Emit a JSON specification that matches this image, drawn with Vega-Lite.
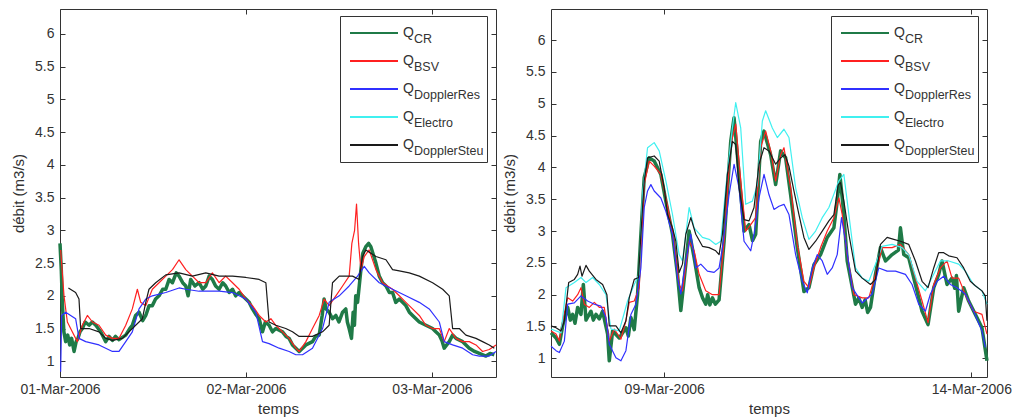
{
"$schema": "https://vega.github.io/schema/vega-lite/v6.json",
"padding": {"left": 11, "top": 8, "right": 0, "bottom": 0},
"spacing": 2,
"resolve": {"scale": {"color": "independent", "shape": "independent"}, "legend": {"color": "independent", "shape": "independent"}},
"config": {
  "view": {"stroke": "#333333", "strokeWidth": 1},
  "font": "Liberation Sans",
  "axis": {"labelFont": "Liberation Sans", "labelFontSize": 14, "labelColor": "#333333", "titleFont": "Liberation Sans", "titleFontSize": 15, "titleFontWeight": "normal", "titleColor": "#333333", "grid": false, "domain": false, "tickColor": "#333333", "tickSize": -5, "labelPadding": 11, "labelFlush": false, "labelOverlap": false, "titlePadding": 8},
  "axisX": {"titlePadding": 5},
  "legend": {"labelFont": "Liberation Sans", "labelColor": "#333333"}
},
"datasets": {
"L": [
{"s":"CR","t":"2006-03-01T00:00","v":2.8},{"s":"CR","t":"2006-03-01T00:10","v":2.4},{"s":"CR","t":"2006-03-01T00:18","v":1.9},{"s":"CR","t":"2006-03-01T00:30","v":1.45},{"s":"CR","t":"2006-03-01T00:44","v":1.3},{"s":"CR","t":"2006-03-01T01:00","v":1.4},{"s":"CR","t":"2006-03-01T01:15","v":1.25},{"s":"CR","t":"2006-03-01T01:30","v":1.35},{"s":"CR","t":"2006-03-01T01:49","v":1.15},{"s":"CR","t":"2006-03-01T02:05","v":1.3},{"s":"CR","t":"2006-03-01T02:19","v":1.35},{"s":"CR","t":"2006-03-01T02:35","v":1.45},{"s":"CR","t":"2006-03-01T02:53","v":1.5},{"s":"CR","t":"2006-03-01T03:15","v":1.6},{"s":"CR","t":"2006-03-01T03:45","v":1.55},{"s":"CR","t":"2006-03-01T04:10","v":1.6},{"s":"CR","t":"2006-03-01T04:37","v":1.55},{"s":"CR","t":"2006-03-01T05:15","v":1.45},{"s":"CR","t":"2006-03-01T05:54","v":1.3},{"s":"CR","t":"2006-03-01T06:20","v":1.38},{"s":"CR","t":"2006-03-01T06:46","v":1.32},{"s":"CR","t":"2006-03-01T07:10","v":1.38},{"s":"CR","t":"2006-03-01T07:37","v":1.33},{"s":"CR","t":"2006-03-01T08:29","v":1.4},{"s":"CR","t":"2006-03-01T09:00","v":1.5},{"s":"CR","t":"2006-03-01T09:20","v":1.55},{"s":"CR","t":"2006-03-01T09:45","v":1.7},{"s":"CR","t":"2006-03-01T10:12","v":1.75},{"s":"CR","t":"2006-03-01T10:40","v":1.62},{"s":"CR","t":"2006-03-01T11:04","v":1.7},{"s":"CR","t":"2006-03-01T11:30","v":1.85},{"s":"CR","t":"2006-03-01T11:55","v":1.85},{"s":"CR","t":"2006-03-01T12:20","v":1.95},{"s":"CR","t":"2006-03-01T12:47","v":2.0},{"s":"CR","t":"2006-03-01T13:15","v":2.1},{"s":"CR","t":"2006-03-01T13:39","v":2.1},{"s":"CR","t":"2006-03-01T14:05","v":2.25},{"s":"CR","t":"2006-03-01T14:31","v":2.2},{"s":"CR","t":"2006-03-01T15:00","v":2.35},{"s":"CR","t":"2006-03-01T15:22","v":2.3},{"s":"CR","t":"2006-03-01T15:50","v":2.2},{"s":"CR","t":"2006-03-01T16:14","v":2.15},{"s":"CR","t":"2006-03-01T16:32","v":2.0},{"s":"CR","t":"2006-03-01T16:52","v":2.25},{"s":"CR","t":"2006-03-01T17:25","v":2.15},{"s":"CR","t":"2006-03-01T17:57","v":2.2},{"s":"CR","t":"2006-03-01T18:25","v":2.1},{"s":"CR","t":"2006-03-01T18:49","v":2.15},{"s":"CR","t":"2006-03-01T19:15","v":2.3},{"s":"CR","t":"2006-03-01T19:40","v":2.25},{"s":"CR","t":"2006-03-01T20:05","v":2.15},{"s":"CR","t":"2006-03-01T20:32","v":2.1},{"s":"CR","t":"2006-03-01T21:00","v":2.2},{"s":"CR","t":"2006-03-01T21:23","v":2.15},{"s":"CR","t":"2006-03-01T21:50","v":2.05},{"s":"CR","t":"2006-03-01T22:16","v":2.1},{"s":"CR","t":"2006-03-01T22:40","v":2.0},{"s":"CR","t":"2006-03-01T23:07","v":2.05},{"s":"CR","t":"2006-03-01T23:59","v":1.95},{"s":"CR","t":"2006-03-02T00:25","v":1.9},{"s":"CR","t":"2006-03-02T00:50","v":1.8},{"s":"CR","t":"2006-03-02T01:15","v":1.72},{"s":"CR","t":"2006-03-02T01:42","v":1.65},{"s":"CR","t":"2006-03-02T02:08","v":1.45},{"s":"CR","t":"2006-03-02T02:30","v":1.6},{"s":"CR","t":"2006-03-02T02:59","v":1.55},{"s":"CR","t":"2006-03-02T03:25","v":1.45},{"s":"CR","t":"2006-03-02T03:51","v":1.5},{"s":"CR","t":"2006-03-02T04:43","v":1.45},{"s":"CR","t":"2006-03-02T05:10","v":1.38},{"s":"CR","t":"2006-03-02T05:34","v":1.35},{"s":"CR","t":"2006-03-02T06:00","v":1.25},{"s":"CR","t":"2006-03-02T06:26","v":1.2},{"s":"CR","t":"2006-03-02T06:52","v":1.15},{"s":"CR","t":"2006-03-02T07:18","v":1.2},{"s":"CR","t":"2006-03-02T07:44","v":1.25},{"s":"CR","t":"2006-03-02T08:35","v":1.3},{"s":"CR","t":"2006-03-02T09:00","v":1.38},{"s":"CR","t":"2006-03-02T09:27","v":1.4},{"s":"CR","t":"2006-03-02T09:50","v":1.7},{"s":"CR","t":"2006-03-02T10:05","v":1.95},{"s":"CR","t":"2006-03-02T10:20","v":1.8},{"s":"CR","t":"2006-03-02T10:44","v":1.75},{"s":"CR","t":"2006-03-02T11:10","v":1.65},{"s":"CR","t":"2006-03-02T11:36","v":1.7},{"s":"CR","t":"2006-03-02T12:00","v":1.6},{"s":"CR","t":"2006-03-02T12:28","v":1.75},{"s":"CR","t":"2006-03-02T12:53","v":1.8},{"s":"CR","t":"2006-03-02T13:05","v":1.6},{"s":"CR","t":"2006-03-02T13:19","v":1.5},{"s":"CR","t":"2006-03-02T13:37","v":1.35},{"s":"CR","t":"2006-03-02T13:50","v":1.75},{"s":"CR","t":"2006-03-02T14:00","v":1.55},{"s":"CR","t":"2006-03-02T14:10","v":2.0},{"s":"CR","t":"2006-03-02T14:24","v":1.9},{"s":"CR","t":"2006-03-02T14:50","v":2.4},{"s":"CR","t":"2006-03-02T15:05","v":2.65},{"s":"CR","t":"2006-03-02T15:28","v":2.75},{"s":"CR","t":"2006-03-02T15:50","v":2.8},{"s":"CR","t":"2006-03-02T16:07","v":2.75},{"s":"CR","t":"2006-03-02T16:46","v":2.5},{"s":"CR","t":"2006-03-02T17:12","v":2.3},{"s":"CR","t":"2006-03-02T17:38","v":2.2},{"s":"CR","t":"2006-03-02T18:04","v":2.15},{"s":"CR","t":"2006-03-02T18:30","v":2.05},{"s":"CR","t":"2006-03-02T18:55","v":2.05},{"s":"CR","t":"2006-03-02T19:20","v":1.9},{"s":"CR","t":"2006-03-02T19:47","v":1.95},{"s":"CR","t":"2006-03-02T20:38","v":1.85},{"s":"CR","t":"2006-03-02T21:05","v":1.75},{"s":"CR","t":"2006-03-02T21:30","v":1.7},{"s":"CR","t":"2006-03-02T22:22","v":1.6},{"s":"CR","t":"2006-03-02T23:13","v":1.55},{"s":"CR","t":"2006-03-03T00:05","v":1.5},{"s":"CR","t":"2006-03-03T00:30","v":1.45},{"s":"CR","t":"2006-03-03T00:57","v":1.4},{"s":"CR","t":"2006-03-03T01:20","v":1.3},{"s":"CR","t":"2006-03-03T01:35","v":1.2},{"s":"CR","t":"2006-03-03T02:14","v":1.3},{"s":"CR","t":"2006-03-03T02:40","v":1.4},{"s":"CR","t":"2006-03-03T03:06","v":1.35},{"s":"CR","t":"2006-03-03T03:58","v":1.3},{"s":"CR","t":"2006-03-03T04:49","v":1.2},{"s":"CR","t":"2006-03-03T05:30","v":1.15},{"s":"CR","t":"2006-03-03T06:07","v":1.12},{"s":"CR","t":"2006-03-03T06:58","v":1.08},{"s":"CR","t":"2006-03-03T07:30","v":1.12},{"s":"CR","t":"2006-03-03T08:03","v":1.1},
{"s":"BSV","t":"2006-03-01T00:05","v":2.7},{"s":"BSV","t":"2006-03-01T00:31","v":2.0},{"s":"BSV","t":"2006-03-01T00:57","v":1.6},{"s":"BSV","t":"2006-03-01T01:35","v":1.45},{"s":"BSV","t":"2006-03-01T02:14","v":1.3},{"s":"BSV","t":"2006-03-01T02:53","v":1.55},{"s":"BSV","t":"2006-03-01T03:32","v":1.7},{"s":"BSV","t":"2006-03-01T04:11","v":1.6},{"s":"BSV","t":"2006-03-01T05:02","v":1.55},{"s":"BSV","t":"2006-03-01T05:54","v":1.4},{"s":"BSV","t":"2006-03-01T06:46","v":1.35},{"s":"BSV","t":"2006-03-01T07:37","v":1.35},{"s":"BSV","t":"2006-03-01T08:29","v":1.55},{"s":"BSV","t":"2006-03-01T09:20","v":1.8},{"s":"BSV","t":"2006-03-01T09:59","v":2.1},{"s":"BSV","t":"2006-03-01T10:25","v":1.9},{"s":"BSV","t":"2006-03-01T11:04","v":1.85},{"s":"BSV","t":"2006-03-01T11:55","v":2.1},{"s":"BSV","t":"2006-03-01T12:47","v":2.2},{"s":"BSV","t":"2006-03-01T13:39","v":2.3},{"s":"BSV","t":"2006-03-01T14:31","v":2.4},{"s":"BSV","t":"2006-03-01T15:22","v":2.55},{"s":"BSV","t":"2006-03-01T16:14","v":2.4},{"s":"BSV","t":"2006-03-01T17:05","v":2.3},{"s":"BSV","t":"2006-03-01T17:57","v":2.2},{"s":"BSV","t":"2006-03-01T18:49","v":2.2},{"s":"BSV","t":"2006-03-01T19:40","v":2.35},{"s":"BSV","t":"2006-03-01T20:32","v":2.2},{"s":"BSV","t":"2006-03-01T21:23","v":2.3},{"s":"BSV","t":"2006-03-01T22:16","v":2.2},{"s":"BSV","t":"2006-03-01T23:07","v":2.1},{"s":"BSV","t":"2006-03-01T23:59","v":1.95},{"s":"BSV","t":"2006-03-02T00:50","v":1.85},{"s":"BSV","t":"2006-03-02T01:42","v":1.7},{"s":"BSV","t":"2006-03-02T02:34","v":1.6},{"s":"BSV","t":"2006-03-02T03:13","v":1.65},{"s":"BSV","t":"2006-03-02T03:51","v":1.55},{"s":"BSV","t":"2006-03-02T04:43","v":1.45},{"s":"BSV","t":"2006-03-02T05:34","v":1.35},{"s":"BSV","t":"2006-03-02T06:26","v":1.2},{"s":"BSV","t":"2006-03-02T06:52","v":1.15},{"s":"BSV","t":"2006-03-02T07:44","v":1.3},{"s":"BSV","t":"2006-03-02T08:35","v":1.5},{"s":"BSV","t":"2006-03-02T09:27","v":1.7},{"s":"BSV","t":"2006-03-02T10:05","v":1.95},{"s":"BSV","t":"2006-03-02T10:44","v":1.85},{"s":"BSV","t":"2006-03-02T11:36","v":2.0},{"s":"BSV","t":"2006-03-02T12:28","v":2.15},{"s":"BSV","t":"2006-03-02T13:19","v":2.3},{"s":"BSV","t":"2006-03-02T13:40","v":2.8},{"s":"BSV","t":"2006-03-02T14:01","v":3.0},{"s":"BSV","t":"2006-03-02T14:16","v":3.4},{"s":"BSV","t":"2006-03-02T14:32","v":2.8},{"s":"BSV","t":"2006-03-02T14:50","v":2.4},{"s":"BSV","t":"2006-03-02T15:16","v":2.6},{"s":"BSV","t":"2006-03-02T15:54","v":2.7},{"s":"BSV","t":"2006-03-02T16:46","v":2.4},{"s":"BSV","t":"2006-03-02T17:38","v":2.2},{"s":"BSV","t":"2006-03-02T18:55","v":2.1},{"s":"BSV","t":"2006-03-02T19:47","v":2.0},{"s":"BSV","t":"2006-03-02T20:38","v":1.9},{"s":"BSV","t":"2006-03-02T21:30","v":1.8},{"s":"BSV","t":"2006-03-02T22:22","v":1.7},{"s":"BSV","t":"2006-03-02T23:13","v":1.55},{"s":"BSV","t":"2006-03-03T00:05","v":1.5},{"s":"BSV","t":"2006-03-03T00:57","v":1.5},{"s":"BSV","t":"2006-03-03T01:35","v":1.3},{"s":"BSV","t":"2006-03-03T02:14","v":1.5},{"s":"BSV","t":"2006-03-03T03:06","v":1.35},{"s":"BSV","t":"2006-03-03T03:58","v":1.3},{"s":"BSV","t":"2006-03-03T04:49","v":1.3},{"s":"BSV","t":"2006-03-03T05:41","v":1.25},{"s":"BSV","t":"2006-03-03T06:32","v":1.15},{"s":"BSV","t":"2006-03-03T07:24","v":1.18},{"s":"BSV","t":"2006-03-03T08:16","v":1.25},
{"s":"DopplerRes","t":"2006-03-01T00:05","v":0.84},{"s":"DopplerRes","t":"2006-03-01T00:13","v":1.7},{"s":"DopplerRes","t":"2006-03-01T00:44","v":1.75},{"s":"DopplerRes","t":"2006-03-01T02:01","v":1.65},{"s":"DopplerRes","t":"2006-03-01T02:27","v":1.35},{"s":"DopplerRes","t":"2006-03-01T03:19","v":1.3},{"s":"DopplerRes","t":"2006-03-01T05:02","v":1.25},{"s":"DopplerRes","t":"2006-03-01T06:46","v":1.15},{"s":"DopplerRes","t":"2006-03-01T07:37","v":1.15},{"s":"DopplerRes","t":"2006-03-01T08:29","v":1.3},{"s":"DopplerRes","t":"2006-03-01T09:20","v":1.45},{"s":"DopplerRes","t":"2006-03-01T10:12","v":1.8},{"s":"DopplerRes","t":"2006-03-01T11:04","v":1.95},{"s":"DopplerRes","t":"2006-03-01T11:55","v":2.0},{"s":"DopplerRes","t":"2006-03-01T13:39","v":2.05},{"s":"DopplerRes","t":"2006-03-01T15:22","v":2.12},{"s":"DopplerRes","t":"2006-03-01T16:14","v":2.1},{"s":"DopplerRes","t":"2006-03-01T17:57","v":2.07},{"s":"DopplerRes","t":"2006-03-01T20:32","v":2.07},{"s":"DopplerRes","t":"2006-03-01T22:16","v":2.05},{"s":"DopplerRes","t":"2006-03-01T23:59","v":1.95},{"s":"DopplerRes","t":"2006-03-02T01:16","v":1.75},{"s":"DopplerRes","t":"2006-03-02T02:08","v":1.3},{"s":"DopplerRes","t":"2006-03-02T02:59","v":1.27},{"s":"DopplerRes","t":"2006-03-02T04:17","v":1.2},{"s":"DopplerRes","t":"2006-03-02T05:34","v":1.15},{"s":"DopplerRes","t":"2006-03-02T06:26","v":1.1},{"s":"DopplerRes","t":"2006-03-02T07:18","v":1.1},{"s":"DopplerRes","t":"2006-03-02T08:35","v":1.2},{"s":"DopplerRes","t":"2006-03-02T09:53","v":1.5},{"s":"DopplerRes","t":"2006-03-02T10:44","v":1.9},{"s":"DopplerRes","t":"2006-03-02T12:02","v":2.0},{"s":"DopplerRes","t":"2006-03-02T13:19","v":2.15},{"s":"DopplerRes","t":"2006-03-02T14:24","v":2.3},{"s":"DopplerRes","t":"2006-03-02T15:16","v":2.45},{"s":"DopplerRes","t":"2006-03-02T15:54","v":2.35},{"s":"DopplerRes","t":"2006-03-02T17:12","v":2.2},{"s":"DopplerRes","t":"2006-03-02T18:55","v":2.1},{"s":"DopplerRes","t":"2006-03-02T20:38","v":2.0},{"s":"DopplerRes","t":"2006-03-02T22:22","v":1.9},{"s":"DopplerRes","t":"2006-03-02T23:39","v":1.8},{"s":"DopplerRes","t":"2006-03-03T00:57","v":1.6},{"s":"DopplerRes","t":"2006-03-03T01:35","v":1.3},{"s":"DopplerRes","t":"2006-03-03T02:40","v":1.25},{"s":"DopplerRes","t":"2006-03-03T03:58","v":1.2},{"s":"DopplerRes","t":"2006-03-03T05:15","v":1.1},{"s":"DopplerRes","t":"2006-03-03T06:07","v":1.08},{"s":"DopplerRes","t":"2006-03-03T07:24","v":1.08},{"s":"DopplerRes","t":"2006-03-03T08:16","v":1.15},
{"s":"DopplerSteu","t":"2006-03-01T01:05","v":2.12},{"s":"DopplerSteu","t":"2006-03-01T02:01","v":2.05},{"s":"DopplerSteu","t":"2006-03-01T02:27","v":1.95},{"s":"DopplerSteu","t":"2006-03-01T02:40","v":1.5},{"s":"DopplerSteu","t":"2006-03-01T03:45","v":1.5},{"s":"DopplerSteu","t":"2006-03-01T05:02","v":1.45},{"s":"DopplerSteu","t":"2006-03-01T05:54","v":1.35},{"s":"DopplerSteu","t":"2006-03-01T06:46","v":1.32},{"s":"DopplerSteu","t":"2006-03-01T08:03","v":1.35},{"s":"DopplerSteu","t":"2006-03-01T09:20","v":1.5},{"s":"DopplerSteu","t":"2006-03-01T10:38","v":1.65},{"s":"DopplerSteu","t":"2006-03-01T11:04","v":1.9},{"s":"DopplerSteu","t":"2006-03-01T11:29","v":2.1},{"s":"DopplerSteu","t":"2006-03-01T12:21","v":2.2},{"s":"DopplerSteu","t":"2006-03-01T13:39","v":2.32},{"s":"DopplerSteu","t":"2006-03-01T15:22","v":2.35},{"s":"DopplerSteu","t":"2006-03-01T17:05","v":2.3},{"s":"DopplerSteu","t":"2006-03-01T18:49","v":2.35},{"s":"DopplerSteu","t":"2006-03-01T20:32","v":2.3},{"s":"DopplerSteu","t":"2006-03-01T22:16","v":2.3},{"s":"DopplerSteu","t":"2006-03-01T23:59","v":2.28},{"s":"DopplerSteu","t":"2006-03-02T01:42","v":2.25},{"s":"DopplerSteu","t":"2006-03-02T02:34","v":2.2},{"s":"DopplerSteu","t":"2006-03-02T02:59","v":1.6},{"s":"DopplerSteu","t":"2006-03-02T03:51","v":1.55},{"s":"DopplerSteu","t":"2006-03-02T05:08","v":1.5},{"s":"DopplerSteu","t":"2006-03-02T06:00","v":1.45},{"s":"DopplerSteu","t":"2006-03-02T06:52","v":1.38},{"s":"DopplerSteu","t":"2006-03-02T08:35","v":1.38},{"s":"DopplerSteu","t":"2006-03-02T09:53","v":1.45},{"s":"DopplerSteu","t":"2006-03-02T10:44","v":1.55},{"s":"DopplerSteu","t":"2006-03-02T11:10","v":2.2},{"s":"DopplerSteu","t":"2006-03-02T12:02","v":2.3},{"s":"DopplerSteu","t":"2006-03-02T13:45","v":2.3},{"s":"DopplerSteu","t":"2006-03-02T14:37","v":2.25},{"s":"DopplerSteu","t":"2006-03-02T15:02","v":2.6},{"s":"DopplerSteu","t":"2006-03-02T15:28","v":2.7},{"s":"DopplerSteu","t":"2006-03-02T16:46","v":2.6},{"s":"DopplerSteu","t":"2006-03-02T18:04","v":2.55},{"s":"DopplerSteu","t":"2006-03-02T18:55","v":2.4},{"s":"DopplerSteu","t":"2006-03-02T19:47","v":2.38},{"s":"DopplerSteu","t":"2006-03-02T21:04","v":2.35},{"s":"DopplerSteu","t":"2006-03-02T22:22","v":2.3},{"s":"DopplerSteu","t":"2006-03-03T00:05","v":2.2},{"s":"DopplerSteu","t":"2006-03-03T01:23","v":2.1},{"s":"DopplerSteu","t":"2006-03-03T02:14","v":2.0},{"s":"DopplerSteu","t":"2006-03-03T02:40","v":1.5},{"s":"DopplerSteu","t":"2006-03-03T03:32","v":1.5},{"s":"DopplerSteu","t":"2006-03-03T04:23","v":1.4},{"s":"DopplerSteu","t":"2006-03-03T05:41","v":1.35},{"s":"DopplerSteu","t":"2006-03-03T06:32","v":1.3},{"s":"DopplerSteu","t":"2006-03-03T07:24","v":1.25},{"s":"DopplerSteu","t":"2006-03-03T08:03","v":1.2}
],
"R": [
{"s":"CR","t":"2006-03-07T03:48","v":1.4},{"s":"CR","t":"2006-03-07T05:45","v":1.32},{"s":"CR","t":"2006-03-07T07:03","v":1.22},{"s":"CR","t":"2006-03-07T08:21","v":1.51},{"s":"CR","t":"2006-03-07T10:18","v":1.8},{"s":"CR","t":"2006-03-07T11:20","v":1.6},{"s":"CR","t":"2006-03-07T12:15","v":1.69},{"s":"CR","t":"2006-03-07T13:10","v":1.55},{"s":"CR","t":"2006-03-07T14:12","v":1.8},{"s":"CR","t":"2006-03-07T15:30","v":1.69},{"s":"CR","t":"2006-03-07T16:25","v":2.16},{"s":"CR","t":"2006-03-07T17:27","v":1.6},{"s":"CR","t":"2006-03-07T19:24","v":1.74},{"s":"CR","t":"2006-03-07T20:20","v":1.6},{"s":"CR","t":"2006-03-07T21:21","v":1.69},{"s":"CR","t":"2006-03-07T22:40","v":1.62},{"s":"CR","t":"2006-03-07T23:57","v":1.74},{"s":"CR","t":"2006-03-08T01:54","v":1.38},{"s":"CR","t":"2006-03-08T02:33","v":0.96},{"s":"CR","t":"2006-03-08T03:51","v":1.43},{"s":"CR","t":"2006-03-08T06:27","v":1.32},{"s":"CR","t":"2006-03-08T09:03","v":1.48},{"s":"CR","t":"2006-03-08T10:00","v":1.35},{"s":"CR","t":"2006-03-08T11:00","v":1.64},{"s":"CR","t":"2006-03-08T12:18","v":1.45},{"s":"CR","t":"2006-03-08T13:36","v":2.0},{"s":"CR","t":"2006-03-08T14:54","v":2.95},{"s":"CR","t":"2006-03-08T16:12","v":3.84},{"s":"CR","t":"2006-03-08T18:09","v":4.15},{"s":"CR","t":"2006-03-08T20:06","v":4.1},{"s":"CR","t":"2006-03-08T22:42","v":3.89},{"s":"CR","t":"2006-03-09T00:39","v":3.47},{"s":"CR","t":"2006-03-09T03:15","v":2.95},{"s":"CR","t":"2006-03-09T05:12","v":2.32},{"s":"CR","t":"2006-03-09T06:30","v":1.75},{"s":"CR","t":"2006-03-09T08:27","v":2.48},{"s":"CR","t":"2006-03-09T09:45","v":3.0},{"s":"CR","t":"2006-03-09T11:42","v":2.58},{"s":"CR","t":"2006-03-09T13:39","v":2.11},{"s":"CR","t":"2006-03-09T15:00","v":1.95},{"s":"CR","t":"2006-03-09T16:15","v":1.85},{"s":"CR","t":"2006-03-09T17:00","v":2.0},{"s":"CR","t":"2006-03-09T17:50","v":1.84},{"s":"CR","t":"2006-03-09T18:51","v":1.95},{"s":"CR","t":"2006-03-09T20:00","v":1.85},{"s":"CR","t":"2006-03-09T21:27","v":1.92},{"s":"CR","t":"2006-03-09T23:24","v":2.84},{"s":"CR","t":"2006-03-10T02:00","v":4.41},{"s":"CR","t":"2006-03-10T03:18","v":4.78},{"s":"CR","t":"2006-03-10T05:15","v":3.89},{"s":"CR","t":"2006-03-10T07:12","v":3.0},{"s":"CR","t":"2006-03-10T09:09","v":3.1},{"s":"CR","t":"2006-03-10T10:30","v":2.85},{"s":"CR","t":"2006-03-10T11:45","v":2.95},{"s":"CR","t":"2006-03-10T13:42","v":4.41},{"s":"CR","t":"2006-03-10T15:00","v":4.57},{"s":"CR","t":"2006-03-10T17:36","v":4.2},{"s":"CR","t":"2006-03-10T19:33","v":3.73},{"s":"CR","t":"2006-03-10T21:30","v":4.26},{"s":"CR","t":"2006-03-10T23:27","v":4.15},{"s":"CR","t":"2006-03-11T01:24","v":3.57},{"s":"CR","t":"2006-03-11T04:00","v":2.74},{"s":"CR","t":"2006-03-11T06:36","v":2.05},{"s":"CR","t":"2006-03-11T08:33","v":2.11},{"s":"CR","t":"2006-03-11T10:30","v":2.47},{"s":"CR","t":"2006-03-11T13:06","v":2.63},{"s":"CR","t":"2006-03-11T15:42","v":2.9},{"s":"CR","t":"2006-03-11T18:18","v":3.05},{"s":"CR","t":"2006-03-11T19:36","v":3.47},{"s":"CR","t":"2006-03-11T20:38","v":3.89},{"s":"CR","t":"2006-03-11T22:12","v":3.26},{"s":"CR","t":"2006-03-11T23:30","v":2.53},{"s":"CR","t":"2006-03-12T02:45","v":1.85},{"s":"CR","t":"2006-03-12T04:00","v":1.95},{"s":"CR","t":"2006-03-12T05:21","v":1.8},{"s":"CR","t":"2006-03-12T06:30","v":1.92},{"s":"CR","t":"2006-03-12T07:30","v":1.72},{"s":"CR","t":"2006-03-12T08:36","v":1.8},{"s":"CR","t":"2006-03-12T10:33","v":2.32},{"s":"CR","t":"2006-03-12T12:30","v":2.74},{"s":"CR","t":"2006-03-12T14:27","v":2.53},{"s":"CR","t":"2006-03-12T17:03","v":2.63},{"s":"CR","t":"2006-03-12T19:30","v":2.7},{"s":"CR","t":"2006-03-12T20:18","v":3.05},{"s":"CR","t":"2006-03-12T21:36","v":2.63},{"s":"CR","t":"2006-03-12T23:33","v":2.58},{"s":"CR","t":"2006-03-13T02:09","v":2.16},{"s":"CR","t":"2006-03-13T04:45","v":1.74},{"s":"CR","t":"2006-03-13T07:05","v":1.53},{"s":"CR","t":"2006-03-13T09:18","v":2.11},{"s":"CR","t":"2006-03-13T11:15","v":2.32},{"s":"CR","t":"2006-03-13T12:33","v":2.53},{"s":"CR","t":"2006-03-13T14:30","v":2.16},{"s":"CR","t":"2006-03-13T16:27","v":2.26},{"s":"CR","t":"2006-03-13T17:30","v":2.1},{"s":"CR","t":"2006-03-13T18:10","v":2.3},{"s":"CR","t":"2006-03-13T19:03","v":1.74},{"s":"CR","t":"2006-03-13T21:00","v":2.11},{"s":"CR","t":"2006-03-13T22:57","v":1.9},{"s":"CR","t":"2006-03-14T01:33","v":1.69},{"s":"CR","t":"2006-03-14T04:09","v":1.48},{"s":"CR","t":"2006-03-14T06:06","v":0.96},
{"s":"BSV","t":"2006-03-07T03:48","v":1.43},{"s":"BSV","t":"2006-03-07T05:45","v":1.38},{"s":"BSV","t":"2006-03-07T07:03","v":1.27},{"s":"BSV","t":"2006-03-07T08:21","v":1.59},{"s":"BSV","t":"2006-03-07T10:18","v":1.95},{"s":"BSV","t":"2006-03-07T12:15","v":1.9},{"s":"BSV","t":"2006-03-07T14:12","v":2.0},{"s":"BSV","t":"2006-03-07T15:30","v":2.11},{"s":"BSV","t":"2006-03-07T16:48","v":1.85},{"s":"BSV","t":"2006-03-07T18:45","v":1.8},{"s":"BSV","t":"2006-03-07T20:42","v":1.88},{"s":"BSV","t":"2006-03-07T22:39","v":1.8},{"s":"BSV","t":"2006-03-08T00:36","v":1.8},{"s":"BSV","t":"2006-03-08T02:33","v":1.27},{"s":"BSV","t":"2006-03-08T04:30","v":1.46},{"s":"BSV","t":"2006-03-08T07:06","v":1.3},{"s":"BSV","t":"2006-03-08T09:03","v":1.59},{"s":"BSV","t":"2006-03-08T10:21","v":1.88},{"s":"BSV","t":"2006-03-08T12:18","v":1.9},{"s":"BSV","t":"2006-03-08T14:15","v":2.11},{"s":"BSV","t":"2006-03-08T16:12","v":3.73},{"s":"BSV","t":"2006-03-08T18:09","v":4.1},{"s":"BSV","t":"2006-03-08T20:06","v":4.02},{"s":"BSV","t":"2006-03-08T22:42","v":3.89},{"s":"BSV","t":"2006-03-09T00:39","v":3.52},{"s":"BSV","t":"2006-03-09T03:15","v":3.0},{"s":"BSV","t":"2006-03-09T05:51","v":2.16},{"s":"BSV","t":"2006-03-09T07:09","v":2.06},{"s":"BSV","t":"2006-03-09T09:45","v":2.84},{"s":"BSV","t":"2006-03-09T11:42","v":2.69},{"s":"BSV","t":"2006-03-09T13:39","v":2.32},{"s":"BSV","t":"2006-03-09T16:15","v":2.06},{"s":"BSV","t":"2006-03-09T18:51","v":2.0},{"s":"BSV","t":"2006-03-09T21:27","v":2.0},{"s":"BSV","t":"2006-03-09T23:24","v":2.84},{"s":"BSV","t":"2006-03-10T02:00","v":4.36},{"s":"BSV","t":"2006-03-10T03:57","v":4.68},{"s":"BSV","t":"2006-03-10T05:54","v":3.79},{"s":"BSV","t":"2006-03-10T07:51","v":3.0},{"s":"BSV","t":"2006-03-10T09:48","v":3.1},{"s":"BSV","t":"2006-03-10T11:45","v":3.21},{"s":"BSV","t":"2006-03-10T13:42","v":4.31},{"s":"BSV","t":"2006-03-10T15:39","v":4.57},{"s":"BSV","t":"2006-03-10T17:36","v":4.26},{"s":"BSV","t":"2006-03-10T19:33","v":3.79},{"s":"BSV","t":"2006-03-10T21:30","v":4.2},{"s":"BSV","t":"2006-03-10T22:48","v":4.31},{"s":"BSV","t":"2006-03-11T01:24","v":3.68},{"s":"BSV","t":"2006-03-11T04:00","v":2.79},{"s":"BSV","t":"2006-03-11T06:36","v":2.21},{"s":"BSV","t":"2006-03-11T08:33","v":2.11},{"s":"BSV","t":"2006-03-11T10:30","v":2.42},{"s":"BSV","t":"2006-03-11T13:06","v":2.74},{"s":"BSV","t":"2006-03-11T15:42","v":3.0},{"s":"BSV","t":"2006-03-11T18:18","v":3.21},{"s":"BSV","t":"2006-03-11T20:15","v":3.52},{"s":"BSV","t":"2006-03-11T21:33","v":3.26},{"s":"BSV","t":"2006-03-11T23:30","v":2.63},{"s":"BSV","t":"2006-03-12T02:06","v":2.0},{"s":"BSV","t":"2006-03-12T05:21","v":1.95},{"s":"BSV","t":"2006-03-12T07:57","v":1.95},{"s":"BSV","t":"2006-03-12T10:33","v":2.32},{"s":"BSV","t":"2006-03-12T13:09","v":2.74},{"s":"BSV","t":"2006-03-12T17:03","v":2.74},{"s":"BSV","t":"2006-03-12T20:18","v":2.79},{"s":"BSV","t":"2006-03-12T23:33","v":2.63},{"s":"BSV","t":"2006-03-13T02:09","v":2.26},{"s":"BSV","t":"2006-03-13T04:45","v":1.9},{"s":"BSV","t":"2006-03-13T07:05","v":1.56},{"s":"BSV","t":"2006-03-13T09:18","v":2.16},{"s":"BSV","t":"2006-03-13T11:54","v":2.42},{"s":"BSV","t":"2006-03-13T14:30","v":2.53},{"s":"BSV","t":"2006-03-13T16:27","v":2.26},{"s":"BSV","t":"2006-03-13T19:03","v":2.26},{"s":"BSV","t":"2006-03-13T21:39","v":2.0},{"s":"BSV","t":"2006-03-14T00:54","v":1.74},{"s":"BSV","t":"2006-03-14T04:09","v":1.69},{"s":"BSV","t":"2006-03-14T06:06","v":1.38},
{"s":"DopplerRes","t":"2006-03-07T03:48","v":1.19},{"s":"DopplerRes","t":"2006-03-07T05:45","v":1.12},{"s":"DopplerRes","t":"2006-03-07T07:03","v":1.09},{"s":"DopplerRes","t":"2006-03-07T09:00","v":1.27},{"s":"DopplerRes","t":"2006-03-07T10:18","v":1.85},{"s":"DopplerRes","t":"2006-03-07T12:54","v":1.87},{"s":"DopplerRes","t":"2006-03-07T15:30","v":1.98},{"s":"DopplerRes","t":"2006-03-07T18:06","v":1.9},{"s":"DopplerRes","t":"2006-03-07T20:42","v":1.85},{"s":"DopplerRes","t":"2006-03-07T23:18","v":1.82},{"s":"DopplerRes","t":"2006-03-08T01:15","v":1.64},{"s":"DopplerRes","t":"2006-03-08T02:33","v":1.22},{"s":"DopplerRes","t":"2006-03-08T05:09","v":1.01},{"s":"DopplerRes","t":"2006-03-08T07:06","v":0.96},{"s":"DopplerRes","t":"2006-03-08T09:03","v":1.12},{"s":"DopplerRes","t":"2006-03-08T11:00","v":1.69},{"s":"DopplerRes","t":"2006-03-08T12:57","v":1.85},{"s":"DopplerRes","t":"2006-03-08T14:54","v":2.42},{"s":"DopplerRes","t":"2006-03-08T16:12","v":3.37},{"s":"DopplerRes","t":"2006-03-08T17:30","v":3.63},{"s":"DopplerRes","t":"2006-03-08T18:48","v":3.73},{"s":"DopplerRes","t":"2006-03-08T20:06","v":3.63},{"s":"DopplerRes","t":"2006-03-08T22:42","v":3.52},{"s":"DopplerRes","t":"2006-03-09T00:39","v":3.31},{"s":"DopplerRes","t":"2006-03-09T03:15","v":2.95},{"s":"DopplerRes","t":"2006-03-09T05:12","v":2.27},{"s":"DopplerRes","t":"2006-03-09T06:30","v":2.01},{"s":"DopplerRes","t":"2006-03-09T08:27","v":2.53},{"s":"DopplerRes","t":"2006-03-09T10:24","v":2.95},{"s":"DopplerRes","t":"2006-03-09T12:21","v":2.42},{"s":"DopplerRes","t":"2006-03-09T14:18","v":2.48},{"s":"DopplerRes","t":"2006-03-09T16:54","v":2.37},{"s":"DopplerRes","t":"2006-03-09T19:30","v":2.35},{"s":"DopplerRes","t":"2006-03-09T21:27","v":2.42},{"s":"DopplerRes","t":"2006-03-09T22:45","v":2.74},{"s":"DopplerRes","t":"2006-03-10T01:21","v":3.57},{"s":"DopplerRes","t":"2006-03-10T03:18","v":4.05},{"s":"DopplerRes","t":"2006-03-10T05:15","v":3.68},{"s":"DopplerRes","t":"2006-03-10T07:12","v":2.84},{"s":"DopplerRes","t":"2006-03-10T09:48","v":2.69},{"s":"DopplerRes","t":"2006-03-10T11:06","v":2.95},{"s":"DopplerRes","t":"2006-03-10T13:03","v":3.52},{"s":"DopplerRes","t":"2006-03-10T15:00","v":3.89},{"s":"DopplerRes","t":"2006-03-10T16:57","v":3.57},{"s":"DopplerRes","t":"2006-03-10T18:54","v":3.34},{"s":"DopplerRes","t":"2006-03-10T20:51","v":3.39},{"s":"DopplerRes","t":"2006-03-10T22:48","v":3.42},{"s":"DopplerRes","t":"2006-03-11T00:45","v":3.26},{"s":"DopplerRes","t":"2006-03-11T03:21","v":2.63},{"s":"DopplerRes","t":"2006-03-11T05:57","v":2.21},{"s":"DopplerRes","t":"2006-03-11T07:54","v":2.03},{"s":"DopplerRes","t":"2006-03-11T09:51","v":2.42},{"s":"DopplerRes","t":"2006-03-11T11:48","v":2.63},{"s":"DopplerRes","t":"2006-03-11T13:45","v":2.53},{"s":"DopplerRes","t":"2006-03-11T15:42","v":2.32},{"s":"DopplerRes","t":"2006-03-11T17:39","v":2.42},{"s":"DopplerRes","t":"2006-03-11T19:36","v":2.63},{"s":"DopplerRes","t":"2006-03-11T21:17","v":3.21},{"s":"DopplerRes","t":"2006-03-11T22:51","v":2.84},{"s":"DopplerRes","t":"2006-03-12T01:27","v":2.11},{"s":"DopplerRes","t":"2006-03-12T05:21","v":1.87},{"s":"DopplerRes","t":"2006-03-12T09:15","v":2.01},{"s":"DopplerRes","t":"2006-03-12T11:51","v":2.42},{"s":"DopplerRes","t":"2006-03-12T15:06","v":2.37},{"s":"DopplerRes","t":"2006-03-12T18:21","v":2.37},{"s":"DopplerRes","t":"2006-03-12T22:15","v":2.32},{"s":"DopplerRes","t":"2006-03-13T00:51","v":2.16},{"s":"DopplerRes","t":"2006-03-13T03:27","v":1.85},{"s":"DopplerRes","t":"2006-03-13T06:03","v":1.74},{"s":"DopplerRes","t":"2006-03-13T08:00","v":2.01},{"s":"DopplerRes","t":"2006-03-13T10:36","v":2.21},{"s":"DopplerRes","t":"2006-03-13T13:12","v":2.29},{"s":"DopplerRes","t":"2006-03-13T15:48","v":2.16},{"s":"DopplerRes","t":"2006-03-13T18:24","v":2.11},{"s":"DopplerRes","t":"2006-03-13T21:39","v":2.01},{"s":"DopplerRes","t":"2006-03-14T00:54","v":1.74},{"s":"DopplerRes","t":"2006-03-14T04:09","v":1.43},{"s":"DopplerRes","t":"2006-03-14T05:27","v":1.17},
{"s":"Electro","t":"2006-03-07T03:48","v":1.46},{"s":"Electro","t":"2006-03-07T07:42","v":1.4},{"s":"Electro","t":"2006-03-07T09:39","v":2.11},{"s":"Electro","t":"2006-03-07T12:54","v":2.19},{"s":"Electro","t":"2006-03-07T15:30","v":2.27},{"s":"Electro","t":"2006-03-07T17:27","v":2.19},{"s":"Electro","t":"2006-03-07T20:03","v":2.27},{"s":"Electro","t":"2006-03-07T22:39","v":2.16},{"s":"Electro","t":"2006-03-08T01:15","v":2.0},{"s":"Electro","t":"2006-03-08T03:12","v":1.46},{"s":"Electro","t":"2006-03-08T06:27","v":1.43},{"s":"Electro","t":"2006-03-08T09:42","v":1.9},{"s":"Electro","t":"2006-03-08T12:18","v":2.16},{"s":"Electro","t":"2006-03-08T14:15","v":2.32},{"s":"Electro","t":"2006-03-08T15:33","v":3.58},{"s":"Electro","t":"2006-03-08T17:30","v":4.31},{"s":"Electro","t":"2006-03-08T20:06","v":4.39},{"s":"Electro","t":"2006-03-08T22:03","v":4.26},{"s":"Electro","t":"2006-03-09T00:39","v":3.79},{"s":"Electro","t":"2006-03-09T03:15","v":3.26},{"s":"Electro","t":"2006-03-09T05:51","v":2.63},{"s":"Electro","t":"2006-03-09T07:09","v":2.53},{"s":"Electro","t":"2006-03-09T09:45","v":3.37},{"s":"Electro","t":"2006-03-09T11:42","v":3.05},{"s":"Electro","t":"2006-03-09T14:57","v":2.9},{"s":"Electro","t":"2006-03-09T17:33","v":2.87},{"s":"Electro","t":"2006-03-09T20:09","v":2.79},{"s":"Electro","t":"2006-03-09T22:06","v":2.84},{"s":"Electro","t":"2006-03-10T00:03","v":3.68},{"s":"Electro","t":"2006-03-10T02:39","v":4.62},{"s":"Electro","t":"2006-03-10T03:57","v":5.02},{"s":"Electro","t":"2006-03-10T05:54","v":4.62},{"s":"Electro","t":"2006-03-10T07:51","v":3.42},{"s":"Electro","t":"2006-03-10T10:27","v":3.47},{"s":"Electro","t":"2006-03-10T12:24","v":3.73},{"s":"Electro","t":"2006-03-10T14:21","v":4.73},{"s":"Electro","t":"2006-03-10T15:39","v":4.89},{"s":"Electro","t":"2006-03-10T18:15","v":4.62},{"s":"Electro","t":"2006-03-10T20:12","v":4.47},{"s":"Electro","t":"2006-03-10T22:48","v":4.6},{"s":"Electro","t":"2006-03-11T00:45","v":4.47},{"s":"Electro","t":"2006-03-11T03:21","v":3.68},{"s":"Electro","t":"2006-03-11T05:57","v":3.21},{"s":"Electro","t":"2006-03-11T08:33","v":2.87},{"s":"Electro","t":"2006-03-11T11:09","v":3.0},{"s":"Electro","t":"2006-03-11T13:45","v":3.21},{"s":"Electro","t":"2006-03-11T16:21","v":3.37},{"s":"Electro","t":"2006-03-11T18:18","v":3.58},{"s":"Electro","t":"2006-03-11T20:15","v":3.79},{"s":"Electro","t":"2006-03-11T22:12","v":3.89},{"s":"Electro","t":"2006-03-12T00:09","v":3.26},{"s":"Electro","t":"2006-03-12T02:45","v":2.42},{"s":"Electro","t":"2006-03-12T05:21","v":2.26},{"s":"Electro","t":"2006-03-12T07:57","v":2.21},{"s":"Electro","t":"2006-03-12T10:33","v":2.48},{"s":"Electro","t":"2006-03-12T13:09","v":2.76},{"s":"Electro","t":"2006-03-12T17:03","v":2.79},{"s":"Electro","t":"2006-03-12T20:57","v":2.74},{"s":"Electro","t":"2006-03-12T23:33","v":2.63},{"s":"Electro","t":"2006-03-13T02:48","v":2.21},{"s":"Electro","t":"2006-03-13T06:03","v":2.06},{"s":"Electro","t":"2006-03-13T09:18","v":2.32},{"s":"Electro","t":"2006-03-13T11:54","v":2.53},{"s":"Electro","t":"2006-03-13T15:09","v":2.53},{"s":"Electro","t":"2006-03-13T19:03","v":2.48},{"s":"Electro","t":"2006-03-13T21:39","v":2.37},{"s":"Electro","t":"2006-03-14T00:54","v":2.16},{"s":"Electro","t":"2006-03-14T04:09","v":2.06},{"s":"Electro","t":"2006-03-14T06:06","v":1.85},
{"s":"DopplerSteu","t":"2006-03-07T03:48","v":1.51},{"s":"DopplerSteu","t":"2006-03-07T05:45","v":1.48},{"s":"DopplerSteu","t":"2006-03-07T07:42","v":1.43},{"s":"DopplerSteu","t":"2006-03-07T09:00","v":1.59},{"s":"DopplerSteu","t":"2006-03-07T10:41","v":2.19},{"s":"DopplerSteu","t":"2006-03-07T12:54","v":2.24},{"s":"DopplerSteu","t":"2006-03-07T14:12","v":2.32},{"s":"DopplerSteu","t":"2006-03-07T15:07","v":2.45},{"s":"DopplerSteu","t":"2006-03-07T15:53","v":2.29},{"s":"DopplerSteu","t":"2006-03-07T17:27","v":2.46},{"s":"DopplerSteu","t":"2006-03-07T18:45","v":2.37},{"s":"DopplerSteu","t":"2006-03-07T21:21","v":2.24},{"s":"DopplerSteu","t":"2006-03-07T23:57","v":2.16},{"s":"DopplerSteu","t":"2006-03-08T01:38","v":2.0},{"s":"DopplerSteu","t":"2006-03-08T02:33","v":1.51},{"s":"DopplerSteu","t":"2006-03-08T05:09","v":1.51},{"s":"DopplerSteu","t":"2006-03-08T07:06","v":1.4},{"s":"DopplerSteu","t":"2006-03-08T09:03","v":1.59},{"s":"DopplerSteu","t":"2006-03-08T10:21","v":1.95},{"s":"DopplerSteu","t":"2006-03-08T12:18","v":2.24},{"s":"DopplerSteu","t":"2006-03-08T13:59","v":2.27},{"s":"DopplerSteu","t":"2006-03-08T14:54","v":2.95},{"s":"DopplerSteu","t":"2006-03-08T16:12","v":3.79},{"s":"DopplerSteu","t":"2006-03-08T17:30","v":4.15},{"s":"DopplerSteu","t":"2006-03-08T20:06","v":4.18},{"s":"DopplerSteu","t":"2006-03-08T22:03","v":4.1},{"s":"DopplerSteu","t":"2006-03-09T00:00","v":3.68},{"s":"DopplerSteu","t":"2006-03-09T01:18","v":3.26},{"s":"DopplerSteu","t":"2006-03-09T03:15","v":3.05},{"s":"DopplerSteu","t":"2006-03-09T04:33","v":2.84},{"s":"DopplerSteu","t":"2006-03-09T05:51","v":2.35},{"s":"DopplerSteu","t":"2006-03-09T07:09","v":2.48},{"s":"DopplerSteu","t":"2006-03-09T08:27","v":2.95},{"s":"DopplerSteu","t":"2006-03-09T10:24","v":3.21},{"s":"DopplerSteu","t":"2006-03-09T12:21","v":2.95},{"s":"DopplerSteu","t":"2006-03-09T14:57","v":2.76},{"s":"DopplerSteu","t":"2006-03-09T17:33","v":2.74},{"s":"DopplerSteu","t":"2006-03-09T20:09","v":2.69},{"s":"DopplerSteu","t":"2006-03-09T21:27","v":2.63},{"s":"DopplerSteu","t":"2006-03-09T22:45","v":2.95},{"s":"DopplerSteu","t":"2006-03-10T00:42","v":3.89},{"s":"DopplerSteu","t":"2006-03-10T02:39","v":4.41},{"s":"DopplerSteu","t":"2006-03-10T03:57","v":4.36},{"s":"DopplerSteu","t":"2006-03-10T05:15","v":3.68},{"s":"DopplerSteu","t":"2006-03-10T07:12","v":3.18},{"s":"DopplerSteu","t":"2006-03-10T09:09","v":3.16},{"s":"DopplerSteu","t":"2006-03-10T11:06","v":3.37},{"s":"DopplerSteu","t":"2006-03-10T13:03","v":4.05},{"s":"DopplerSteu","t":"2006-03-10T15:00","v":4.31},{"s":"DopplerSteu","t":"2006-03-10T16:57","v":4.26},{"s":"DopplerSteu","t":"2006-03-10T19:33","v":4.05},{"s":"DopplerSteu","t":"2006-03-10T21:30","v":4.15},{"s":"DopplerSteu","t":"2006-03-10T23:11","v":4.2},{"s":"DopplerSteu","t":"2006-03-11T00:45","v":4.02},{"s":"DopplerSteu","t":"2006-03-11T02:42","v":3.63},{"s":"DopplerSteu","t":"2006-03-11T04:39","v":3.26},{"s":"DopplerSteu","t":"2006-03-11T06:36","v":2.9},{"s":"DopplerSteu","t":"2006-03-11T08:33","v":2.71},{"s":"DopplerSteu","t":"2006-03-11T11:09","v":2.84},{"s":"DopplerSteu","t":"2006-03-11T13:45","v":3.0},{"s":"DopplerSteu","t":"2006-03-11T16:21","v":3.16},{"s":"DopplerSteu","t":"2006-03-11T18:18","v":3.26},{"s":"DopplerSteu","t":"2006-03-11T19:59","v":3.73},{"s":"DopplerSteu","t":"2006-03-11T20:54","v":3.76},{"s":"DopplerSteu","t":"2006-03-11T22:12","v":3.47},{"s":"DopplerSteu","t":"2006-03-12T00:09","v":2.95},{"s":"DopplerSteu","t":"2006-03-12T02:45","v":2.37},{"s":"DopplerSteu","t":"2006-03-12T05:21","v":2.26},{"s":"DopplerSteu","t":"2006-03-12T08:36","v":2.16},{"s":"DopplerSteu","t":"2006-03-12T10:33","v":2.24},{"s":"DopplerSteu","t":"2006-03-12T12:30","v":2.79},{"s":"DopplerSteu","t":"2006-03-12T15:06","v":2.9},{"s":"DopplerSteu","t":"2006-03-12T17:42","v":2.87},{"s":"DopplerSteu","t":"2006-03-12T20:18","v":2.84},{"s":"DopplerSteu","t":"2006-03-12T23:33","v":2.79},{"s":"DopplerSteu","t":"2006-03-13T02:09","v":2.53},{"s":"DopplerSteu","t":"2006-03-13T04:45","v":2.21},{"s":"DopplerSteu","t":"2006-03-13T07:05","v":2.11},{"s":"DopplerSteu","t":"2006-03-13T09:18","v":2.42},{"s":"DopplerSteu","t":"2006-03-13T11:15","v":2.66},{"s":"DopplerSteu","t":"2006-03-13T13:12","v":2.66},{"s":"DopplerSteu","t":"2006-03-13T15:09","v":2.61},{"s":"DopplerSteu","t":"2006-03-13T18:24","v":2.58},{"s":"DopplerSteu","t":"2006-03-13T21:00","v":2.42},{"s":"DopplerSteu","t":"2006-03-13T23:36","v":2.21},{"s":"DopplerSteu","t":"2006-03-14T01:33","v":2.14},{"s":"DopplerSteu","t":"2006-03-14T04:09","v":2.06},{"s":"DopplerSteu","t":"2006-03-14T05:27","v":1.98},{"s":"DopplerSteu","t":"2006-03-14T06:06","v":1.59}
]
},
"hconcat": [
{
  "width": 436, "height": 368,
  "data": {"name": "L"},
  "layer": [
    {"transform": [{"filter": "datum.s === 'CR'"}],
     "mark": {"type": "line", "strokeJoin": "round", "strokeWidth": 3.5},
     "encoding": {
       "x": {"field": "t", "type": "temporal", "scale": {"domain": [{"year": 2006, "month": 3, "date": 1, "hours": 0}, {"year": 2006, "month": 3, "date": 3, "hours": 8, "minutes": 16}]}, "axis": {"values": [{"year": 2006, "month": 3, "date": 1}, {"year": 2006, "month": 3, "date": 2}, {"year": 2006, "month": 3, "date": 3}], "format": "%d-%b-%Y", "title": "temps", "labelPadding": 10}},
       "y": {"field": "v", "type": "quantitative", "scale": {"domain": [0.76, 6.38], "nice": false, "zero": false}, "axis": {"values": [1, 1.5, 2, 2.5, 3, 3.5, 4, 4.5, 5, 5.5, 6], "format": ".1~f", "title": "débit (m3/s)"}},
       "color": {"field": "s", "type": "nominal", "scale": {"domain": ["CR", "BSV", "DopplerRes", "Electro", "DopplerSteu"], "range": ["#1f7a47", "#ff2020", "#3030ff", "#40f0f0", "#1a1a1a"]}, "legend": {"orient": "none", "legendX": 286, "legendY": 7, "title": null, "padding": 3, "clipHeight": 28, "rowPadding": 0, "symbolSize": 2304, "symbolStrokeWidth": 2, "labelExpr": "'Q'", "labelFontSize": 14, "labelOffset": 4, "zindex": 1}}
     }},
    {"transform": [{"filter": "datum.s !== 'CR'"}],
     "mark": {"type": "line", "strokeJoin": "round", "strokeWidth": 1.2},
     "encoding": {
       "x": {"field": "t", "type": "temporal", "axis": null},
       "y": {"field": "v", "type": "quantitative", "axis": null},
       "color": {"field": "s", "type": "nominal", "scale": {"domain": ["CR", "BSV", "DopplerRes", "Electro", "DopplerSteu"], "range": ["#1f7a47", "#ff2020", "#3030ff", "#40f0f0", "#1a1a1a"]}, "legend": {"orient": "none", "legendX": 286, "legendY": 7, "title": null, "padding": 3, "clipHeight": 28, "rowPadding": 0, "symbolSize": 2304, "symbolStrokeWidth": 2, "labelExpr": "'Q'", "labelFontSize": 14, "labelOffset": 4, "zindex": 1}}
     }},
    {"mark": {"type": "point", "opacity": 0},
     "encoding": {
       "x": {"field": "t", "type": "temporal", "axis": {"orient": "top", "values": [{"year": 2006, "month": 3, "date": 1}, {"year": 2006, "month": 3, "date": 2}, {"year": 2006, "month": 3, "date": 3}], "labels": false, "title": null}},
       "y": {"field": "v", "type": "quantitative", "axis": {"orient": "right", "values": [1, 1.5, 2, 2.5, 3, 3.5, 4, 4.5, 5, 5.5, 6], "labels": false, "title": null}},
       "shape": {"field": "s", "type": "nominal", "scale": {"domain": ["DopplerSteu", "Electro", "DopplerRes", "BSV", "CR"]}, "legend": {"values": ["CR", "BSV", "DopplerRes", "Electro", "DopplerSteu"], "orient": "none", "legendX": 280, "legendY": 7, "title": null, "padding": 3, "clipHeight": 28, "rowPadding": 0, "symbolSize": 2304, "symbolOpacity": 0, "symbolStrokeWidth": 0, "labelFontSize": 12.5, "labelOffset": 23, "labelBaseline": "top", "strokeColor": "#333333", "fillColor": "white", "cornerRadius": 0}}
     }}
  ],
  "resolve": {"axis": {"x": "independent", "y": "independent"}}
},
{
  "width": 436, "height": 368,
  "data": {"name": "R"},
  "layer": [
    {"transform": [{"filter": "datum.s === 'CR'"}],
     "mark": {"type": "line", "strokeJoin": "round", "strokeWidth": 3.5},
     "encoding": {
       "x": {"field": "t", "type": "temporal", "scale": {"domain": [{"year": 2006, "month": 3, "date": 7, "hours": 3, "minutes": 47}, {"year": 2006, "month": 3, "date": 14, "hours": 6, "minutes": 7}]}, "axis": {"values": [{"year": 2006, "month": 3, "date": 9}, {"year": 2006, "month": 3, "date": 14}], "format": "%d-%b-%Y", "title": "temps", "labelPadding": 10}},
       "y": {"field": "v", "type": "quantitative", "scale": {"domain": [0.706, 6.49], "nice": false, "zero": false}, "axis": {"values": [1, 1.5, 2, 2.5, 3, 3.5, 4, 4.5, 5, 5.5, 6], "format": ".1~f", "title": "débit (m3/s)"}},
       "color": {"field": "s", "type": "nominal", "scale": {"domain": ["CR", "BSV", "DopplerRes", "Electro", "DopplerSteu"], "range": ["#1f7a47", "#ff2020", "#3030ff", "#40f0f0", "#1a1a1a"]}, "legend": {"orient": "none", "legendX": 286, "legendY": 7, "title": null, "padding": 3, "clipHeight": 28, "rowPadding": 0, "symbolSize": 2304, "symbolStrokeWidth": 2, "labelExpr": "'Q'", "labelFontSize": 14, "labelOffset": 4, "zindex": 1}}
     }},
    {"transform": [{"filter": "datum.s !== 'CR'"}],
     "mark": {"type": "line", "strokeJoin": "round", "strokeWidth": 1.2},
     "encoding": {
       "x": {"field": "t", "type": "temporal", "axis": null},
       "y": {"field": "v", "type": "quantitative", "axis": null},
       "color": {"field": "s", "type": "nominal", "scale": {"domain": ["CR", "BSV", "DopplerRes", "Electro", "DopplerSteu"], "range": ["#1f7a47", "#ff2020", "#3030ff", "#40f0f0", "#1a1a1a"]}, "legend": {"orient": "none", "legendX": 286, "legendY": 7, "title": null, "padding": 3, "clipHeight": 28, "rowPadding": 0, "symbolSize": 2304, "symbolStrokeWidth": 2, "labelExpr": "'Q'", "labelFontSize": 14, "labelOffset": 4, "zindex": 1}}
     }},
    {"mark": {"type": "point", "opacity": 0},
     "encoding": {
       "x": {"field": "t", "type": "temporal", "axis": {"orient": "top", "values": [{"year": 2006, "month": 3, "date": 9}, {"year": 2006, "month": 3, "date": 14}], "labels": false, "title": null}},
       "y": {"field": "v", "type": "quantitative", "axis": {"orient": "right", "values": [1, 1.5, 2, 2.5, 3, 3.5, 4, 4.5, 5, 5.5, 6], "labels": false, "title": null}},
       "shape": {"field": "s", "type": "nominal", "scale": {"domain": ["DopplerSteu", "Electro", "DopplerRes", "BSV", "CR"]}, "legend": {"values": ["CR", "BSV", "DopplerRes", "Electro", "DopplerSteu"], "orient": "none", "legendX": 280, "legendY": 7, "title": null, "padding": 3, "clipHeight": 28, "rowPadding": 0, "symbolSize": 2304, "symbolOpacity": 0, "symbolStrokeWidth": 0, "labelFontSize": 12.5, "labelOffset": 23, "labelBaseline": "top", "strokeColor": "#333333", "fillColor": "white", "cornerRadius": 0}}
     }}
  ],
  "resolve": {"axis": {"x": "independent", "y": "independent"}}
}
]
}
